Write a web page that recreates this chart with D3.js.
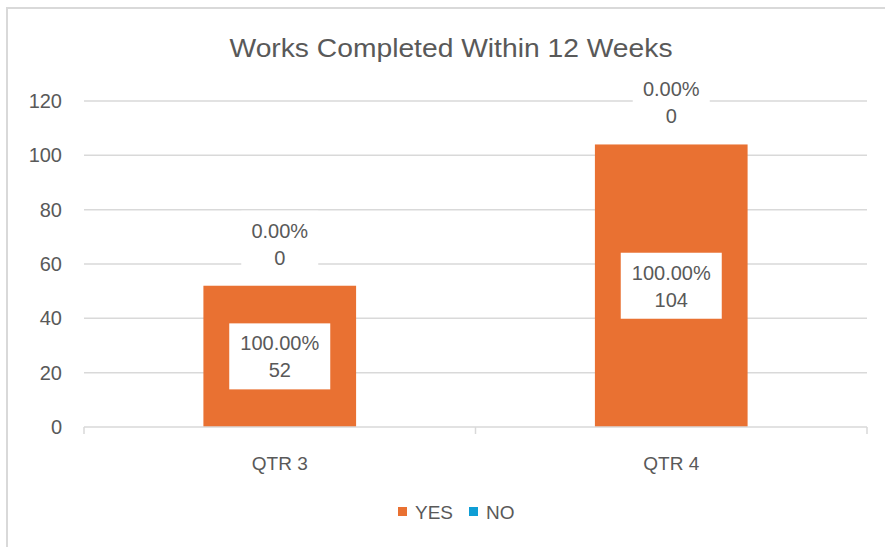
<!DOCTYPE html>
<html><head><meta charset="utf-8">
<script src="https://cdn.jsdelivr.net/npm/d3@7"></script>
<style>
html,body{margin:0;padding:0;background:#fff;}
svg{display:block;}
text{font-family:"Liberation Sans",Arial,sans-serif;fill:#595959;}
</style></head><body>
<svg id="c" width="885" height="547"></svg>
<script>
const title = "Works Completed Within 12 Weeks";
const categories = ["QTR 3", "QTR 4"];
const seriesNames = ["YES", "NO"];
const yesValues = [52, 104];
const noValues = [0, 0];
const yTicks = [0, 20, 40, 60, 80, 100, 120];
const colors = {YES: "#E97132", NO: "#0F9ED5"};

const rows = categories.map((c, i) => ({cat: c, YES: yesValues[i], NO: noValues[i]}));
const stacked = d3.stack().keys(seriesNames)(rows);

const svg = d3.select("#c");
const W = 885, H = 547;
const m = {left: 84, right: 867, top: 101, bottom: 427};

// frame
svg.append("path").attr("d", `M7,${H+5} L7,8 L${W+5},8`).attr("fill","none")
  .attr("stroke","#d9d9d9").attr("stroke-width",2);

const x = d3.scaleBand().domain(categories).range([m.left, m.right]);
const y = d3.scaleLinear().domain([0, 120]).range([m.bottom, m.top]);
const barW = x.bandwidth() * 0.39;

// title
svg.append("text").attr("x", 451).attr("y", 57).attr("text-anchor","middle")
  .attr("font-size", 26).attr("textLength", 443).attr("lengthAdjust", "spacingAndGlyphs").text(title);

// gridlines
svg.append("g").selectAll("line").data(yTicks.filter(t => t > 0)).join("line")
  .attr("x1", m.left).attr("x2", m.right)
  .attr("y1", d => y(d)).attr("y2", d => y(d))
  .attr("stroke", "#d9d9d9").attr("stroke-width", 1.5);

// y axis labels
const yAxis = d3.axisLeft(y).tickValues(yTicks).tickSize(0).tickPadding(22);
const gy = svg.append("g").attr("transform", `translate(${m.left},0)`).call(yAxis);
gy.select(".domain").remove();
gy.selectAll("text").attr("font-size", 20).attr("fill", "#595959")
  .style("font-family", "'Liberation Sans',Arial,sans-serif");

// bars
svg.append("g").selectAll("g").data(stacked).join("g")
  .attr("fill", d => colors[d.key])
  .selectAll("rect").data(d => d).join("rect")
  .attr("x", d => x(d.data.cat) + (x.bandwidth() - barW) / 2)
  .attr("width", barW)
  .attr("y", d => y(d[1]))
  .attr("height", d => y(d[0]) - y(d[1]));

// x axis
const xAxis = d3.axisBottom(x).tickSize(0).tickPadding(30);
const gx = svg.append("g").attr("transform", `translate(0,${m.bottom})`).call(xAxis);
gx.select(".domain").attr("stroke", "#d9d9d9").attr("stroke-width", 1.5)
  .attr("d", `M${m.left},0H${m.right}`);
gx.selectAll("text").attr("font-size", 19).attr("fill", "#595959")
  .style("font-family", "'Liberation Sans',Arial,sans-serif");
// boundary ticks
const bounds = [m.left, ...categories.slice(1).map(c => x(c)), m.right];
svg.append("g").selectAll("line").data(bounds).join("line")
  .attr("x1", d => d).attr("x2", d => d).attr("y1", m.bottom).attr("y2", m.bottom + 7)
  .attr("stroke", "#d9d9d9").attr("stroke-width", 1.5);

// data labels
function label(cx, cy, lines, bw) {
  const g = svg.append("g");
  g.append("rect").attr("x", cx - bw / 2).attr("y", cy - 33).attr("width", bw).attr("height", 66).attr("fill", "#fff");
  lines.forEach((t, i) => {
    g.append("text").attr("x", cx).attr("y", cy + (i === 0 ? -6 : 21))
      .attr("text-anchor", "middle").attr("font-size", 20).text(t);
  });
}
const fmtP = d3.format(".2%");
stacked.forEach(s => {
  s.forEach((d, i) => {
    const total = yesValues[i] + noValues[i];
    const v = d.data[s.key];
    const cx = x(d.data.cat) + x.bandwidth() / 2;
    if (v > 0) {
      label(cx, (y(d[0]) + y(d[1])) / 2, [fmtP(v / total), String(v)], 101);
    } else {
      label(cx, y(d[1]) - 42, [fmtP(v / total), String(v)], 77);
    }
  });
});

// legend
const leg = svg.append("g");
const legItems = [{k: "YES", x: 398}, {k: "NO", x: 469}];
legItems.forEach(it => {
  leg.append("rect").attr("x", it.x).attr("y", 507).attr("width", 9).attr("height", 9).attr("fill", colors[it.k]);
  leg.append("text").attr("x", it.x + 17).attr("y", 519).attr("font-size", 19).text(it.k);
});
</script>
</body></html>
